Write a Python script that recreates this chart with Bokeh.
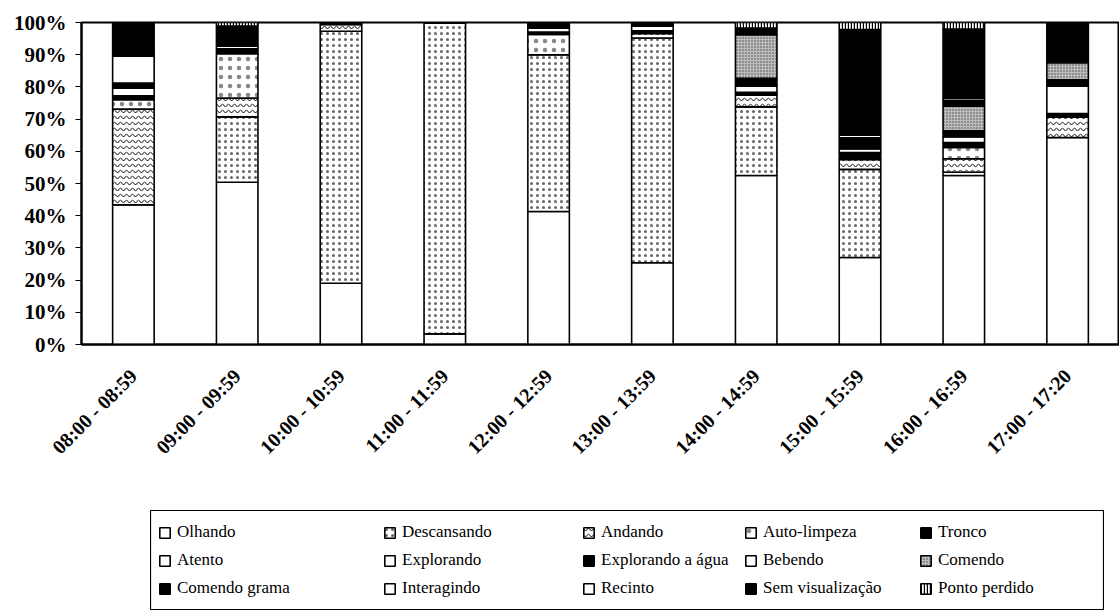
import math
from bokeh.plotting import figure
from bokeh.layouts import column, row
from bokeh.models import (FactorRange, Range1d, FixedTicker, PrintfTickFormatter,
                          Legend, Spacer)
from bokeh.embed import file_html
from bokeh.resources import INLINE

# Time slots (x categories)
slots = ["08:00 - 08:59", "09:00 - 09:59", "10:00 - 10:59", "11:00 - 11:59",
         "12:00 - 12:59", "13:00 - 13:59", "14:00 - 14:59", "15:00 - 15:59",
         "16:00 - 16:59", "17:00 - 17:20"]

# Share of records per behaviour (%), one value per time slot
olhando          = [43.4, 50.4, 19.0, 3.3, 41.3, 25.4, 52.5, 27.0, 52.5, 64.3]
descansando      = [0.0, 20.3, 78.3, 96.7, 48.7, 69.8, 21.3, 27.4, 1.0, 0.0]
andando          = [29.7, 5.8, 2.1, 0.0, 0.0, 1.4, 3.7, 3.1, 4.2, 6.4]
auto_limpeza     = [2.9, 13.8, 0.0, 0.0, 6.3, 0.0, 0.0, 0.0, 3.5, 0.0]
tronco           = [1.2, 1.5, 0.6, 0.0, 0.7, 0.8, 0.8, 2.1, 1.5, 1.0]
atento           = [2.4, 1.0, 0.0, 0.0, 1.3, 1.5, 2.0, 1.2, 1.8, 8.5]
explorando       = [0.0, 0.0, 0.0, 0.0, 0.0, 0.0, 0.0, 0.0, 0.0, 0.0]
explorando_agua  = [1.6, 0.0, 0.0, 0.0, 0.0, 0.0, 2.4, 3.4, 1.9, 2.0]
bebendo          = [8.3, 0.0, 0.0, 0.0, 0.0, 0.0, 0.0, 0.0, 0.0, 0.0]
comendo          = [0.0, 0.0, 0.0, 0.0, 0.0, 0.0, 13.5, 0.0, 7.6, 5.3]
comendo_grama    = [10.5, 6.1, 0.0, 0.0, 0.0, 0.0, 2.1, 0.0, 1.8, 12.5]
interagindo      = [0.0, 0.0, 0.0, 0.0, 0.0, 0.0, 0.0, 0.8, 0.7, 0.0]
recinto          = [0.0, 0.0, 0.0, 0.0, 0.0, 0.0, 0.0, 0.0, 0.0, 0.0]
sem_visualizacao = [0.0, 0.0, 0.0, 0.0, 1.7, 1.1, 0.0, 32.8, 21.5, 0.0]
ponto_perdido    = [0.0, 1.1, 0.0, 0.0, 0.0, 0.0, 1.7, 2.2, 2.0, 0.0]

behaviours = ["Olhando", "Descansando", "Andando", "Auto-limpeza", "Tronco",
              "Atento", "Explorando", "Explorando a água", "Bebendo", "Comendo",
              "Comendo grama", "Interagindo", "Recinto", "Sem visualização", "Ponto perdido"]

series = [olhando, descansando, andando, auto_limpeza, tronco,
          atento, explorando, explorando_agua, bebendo, comendo,
          comendo_grama, interagindo, recinto, sem_visualizacao, ponto_perdido]

keys = ["s%d" % i for i in range(len(series))]
data = {"slot": slots}
for k, vals in zip(keys, series):
    data[k] = vals

# Monochrome fills and hatch patterns per behaviour
fills = ["white", "white", "white", "white", "black",
         "white", "white", "black", "white", "#bdbdbd",
         "black", "white", "white", "black", "white"]
hatches = [None, "dot", "horizontal_wave", "dot", None,
           None, None, None, None, "dot",
           None, None, None, None, "vertical_line"]
hcolors = ["black", "#666666", "black", "#888888", "black",
           "black", "black", "black", "black", "#444444",
           "black", "black", "black", "black", "black"]
hscale = [12, 6, 6, 9, 12, 12, 12, 12, 12, 3, 12, 12, 12, 12, 3]
hweight = [1, 0.3, 1, 0.3, 1, 1, 1, 1, 1, 0.3, 1, 1, 1, 1, 1.4]

style = dict(fill_color=fills, line_color="black", line_width=1.6,
             hatch_pattern=hatches, hatch_color=hcolors,
             hatch_scale=hscale, hatch_weight=hweight)

serif = "Liberation Serif"

# ---- main chart ----
p = figure(width=1119, height=510, x_range=FactorRange(*slots, range_padding=0),
           y_range=Range1d(0, 100), output_backend="svg", toolbar_location=None,
           min_border_left=81, min_border_right=0, min_border_top=22,
           min_border_bottom=166)

p.vbar_stack(keys, x="slot", width=0.4, source=data, **style)

p.xgrid.grid_line_color = None
p.ygrid.grid_line_color = None
p.outline_line_color = "black"
p.outline_line_width = 2

p.yaxis.ticker = FixedTicker(ticks=list(range(0, 101, 10)))
p.yaxis.formatter = PrintfTickFormatter(format="%d%%")
p.yaxis.major_label_text_font = serif
p.yaxis.major_label_text_font_style = "bold"
p.yaxis.major_label_text_font_size = "21px"
p.yaxis.major_label_text_color = "black"
p.yaxis.major_label_standoff = 9
p.yaxis.major_tick_out = 6
p.yaxis.major_tick_in = 0
p.yaxis.major_tick_line_color = "black"
p.yaxis.minor_tick_line_color = None
p.yaxis.axis_line_width = 2
p.yaxis.axis_line_color = "black"

p.xaxis.major_label_orientation = math.pi / 4
p.xaxis.major_label_text_font = serif
p.xaxis.major_label_text_font_style = "bold"
p.xaxis.major_label_text_font_size = "20px"
p.xaxis.major_label_text_color = "black"
p.xaxis.major_tick_line_color = None
p.xaxis.major_label_standoff = 22
p.xaxis.axis_line_width = 2
p.xaxis.axis_line_color = "black"

# ---- legend box: same stacked series, kept out of view, feeding the legend ----
lf = figure(width=954, height=100, x_range=FactorRange(*slots),
            y_range=Range1d(1000, 1001), output_backend="svg",
            toolbar_location=None, min_border=0, x_axis_type=None, y_axis_type=None)
lf.xgrid.grid_line_color = None
lf.ygrid.grid_line_color = None
lf.outline_line_color = "black"
lf.outline_line_width = 1.2
proxies = lf.vbar_stack(keys, x="slot", width=0.4, source=data, **style)

col_x = [8, 233, 432, 594, 769]
for c, x0 in enumerate(col_x):
    idx = [c, c + 5, c + 10]
    lg = Legend(items=[(behaviours[i], [proxies[i]]) for i in idx],
                orientation="vertical", location=(x0, 12))
    lg.label_text_font = serif
    lg.label_text_font_size = "17px"
    lg.label_text_color = "black"
    lg.glyph_width = 13
    lg.glyph_height = 13
    lg.label_height = 20
    lg.label_standoff = 6
    lg.spacing = 8
    lg.padding = 0
    lg.margin = 0
    lg.border_line_color = None
    lg.background_fill_alpha = 0
    lf.add_layout(lg, "center")

layout = column(p, row(Spacer(width=150, height=100), lf))

open("out.html", "w").write(file_html(layout, INLINE))
